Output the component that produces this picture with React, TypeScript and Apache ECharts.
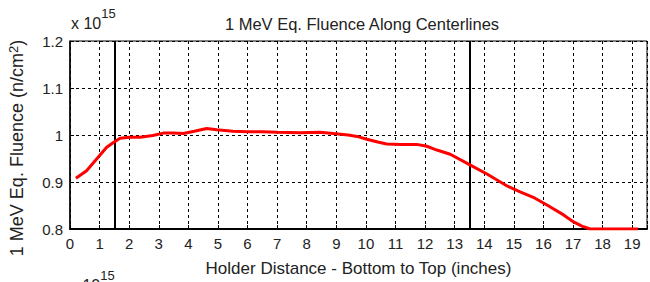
import React, { useEffect, useRef } from "react";
import * as echarts from "echarts";

const distances = [0.2, 0.56, 0.9, 1.24, 1.47, 1.69, 2.0, 2.37, 2.8, 3.15, 3.5, 3.83, 4.2, 4.62, 4.96, 5.5, 6.0, 6.5, 7.0, 7.8, 8.45, 8.9, 9.4, 9.7, 10.03, 10.4, 10.7, 11.2, 11.72, 12.06, 12.4, 12.85, 13.47, 14.09, 14.76, 15.21, 15.7, 16.12, 16.68, 17.02, 17.3, 17.58, 18.0, 18.6, 19.2];
const fluence = [0.908, 0.924, 0.949, 0.974, 0.984, 0.993, 0.995, 0.995, 0.999, 1.004, 1.004, 1.003, 1.008, 1.014, 1.011, 1.008, 1.007, 1.007, 1.006, 1.005, 1.006, 1.003, 1.0, 0.997, 0.991, 0.985, 0.981, 0.98, 0.98, 0.976, 0.968, 0.959, 0.938, 0.917, 0.892, 0.879, 0.866, 0.851, 0.83, 0.815, 0.806, 0.8, 0.8, 0.8, 0.8];
const markerPositions = [1.5, 13.5];
const yTicks = [0.8, 0.9, 1.0, 1.1, 1.2];

const titleText = "1 MeV Eq. Fluence Along Centerlines";
const xName = "Holder Distance - Bottom to Top (inches)";
const yName = "1 MeV Eq. Fluence (n/cm{sup|2})";
const FONT = "'Liberation Sans', Arial, sans-serif";

export default function App() {
  const ref = useRef<HTMLDivElement>(null);
  useEffect(() => {
    if (!ref.current) return;
    const chart = echarts.init(ref.current, null, { renderer: "svg" });
    const expText = {
      type: "text",
      style: {
        text: "{b|x 10}{s|15}",
        rich: {
          b: { fontSize: 16, fontFamily: FONT, fill: "#222", verticalAlign: "bottom", lineHeight: 24 },
          s: { fontSize: 13, fontFamily: FONT, fill: "#222", verticalAlign: "top", lineHeight: 24 },
        },
      },
    };
    chart.setOption({
      animation: false,
      backgroundColor: "#fff",
      textStyle: { fontFamily: FONT },
      title: {
        text: titleText,
        left: 357,
        top: 10,
        textAlign: "center",
        textStyle: { fontSize: 16.5, fontWeight: "normal", color: "#222", fontFamily: FONT },
      },
      grid: {
        left: 70,
        right: 3,
        top: 41,
        bottom: 52,
        show: true,
        borderColor: "#000",
        borderWidth: 1,
        backgroundColor: "#fff",
      },
      graphic: [
        { ...expText, left: 71, top: 7 },
        { ...expText, left: 70, top: 269 },
        {
          type: "text",
          x: 17,
          y: 148,
          rotation: Math.PI / 2,
          style: {
            text: yName,
            align: "center",
            verticalAlign: "middle",
            fontSize: 18,
            fontFamily: FONT,
            fill: "#222",
            rich: {
              sup: { fontSize: 13, verticalAlign: "top", fill: "#222", fontFamily: FONT, padding: [0, 0, 8, 0] },
            },
          },
        },
      ],
      xAxis: {
        type: "value",
        min: 0,
        max: 19.5,
        interval: 1,
        name: xName,
        nameLocation: "middle",
        nameGap: 31,
        nameTextStyle: { fontSize: 17, color: "#222", fontFamily: FONT },
        axisLine: { show: true, onZero: false, lineStyle: { color: "#000", width: 2 } },
        axisTick: { show: true, inside: true, length: 4, lineStyle: { color: "#000" } },
        axisLabel: {
          fontSize: 15,
          color: "#222",
          margin: 7,
          fontFamily: FONT,
          formatter: (v: number) => (Number.isInteger(v) ? String(v) : ""),
        },
        splitLine: { show: true, lineStyle: { color: "#000", type: [3, 3], width: 1 } },
      },
      yAxis: {
        type: "value",
        min: yTicks[0],
        max: yTicks[yTicks.length - 1],
        interval: 0.1,
        axisLine: { show: true, lineStyle: { color: "#000", width: 1.5 } },
        axisTick: { show: true, inside: true, length: 4, lineStyle: { color: "#000" } },
        axisLabel: {
          fontSize: 15,
          color: "#222",
          margin: 7,
          fontFamily: FONT,
          formatter: (v: number) => String(Number(v.toFixed(1))),
        },
        splitLine: { show: true, lineStyle: { color: "#000", type: [3, 3], width: 1 } },
      },
      series: [
        {
          type: "line",
          data: distances.map((d, i) => [d, fluence[i]]),
          showSymbol: false,
          symbol: "none",
          lineStyle: { color: "#ff0000", width: 3 },
          z: 5,
          markLine: {
            silent: true,
            symbol: ["none", "none"],
            label: { show: false },
            lineStyle: { color: "#000", type: "solid", width: 2 },
            data: markerPositions.map((p) => ({ xAxis: p })),
          },
        },
      ],
    });
    return () => chart.dispose();
  }, []);
  return (
    <div
      ref={ref}
      style={{ position: "fixed", left: 0, top: 0, width: 650, height: 282, background: "#fff" }}
    />
  );
}
